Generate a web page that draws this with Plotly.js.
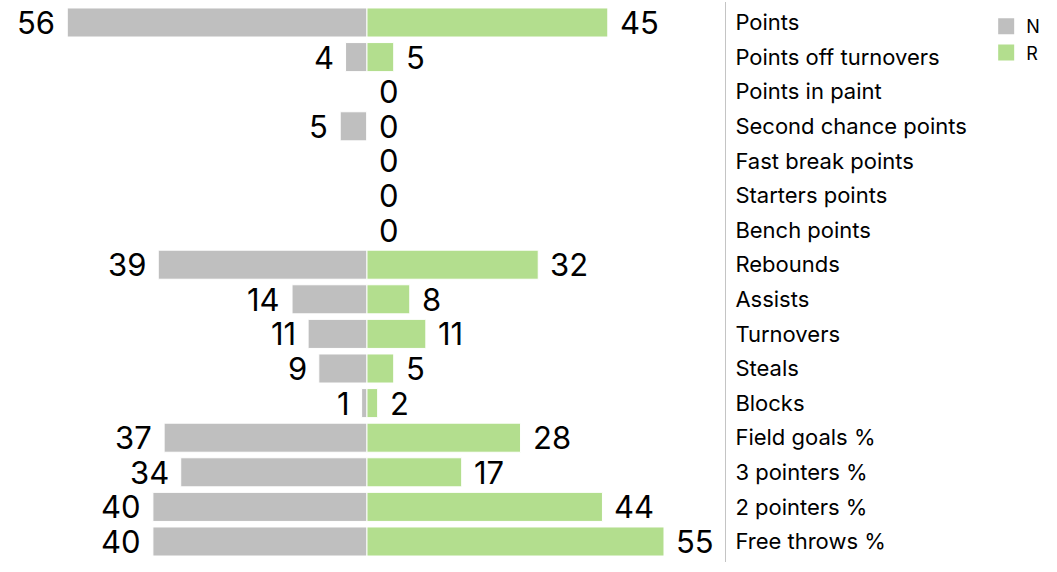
<!DOCTYPE html>
<html>
<head>
<meta charset="utf-8">
<script src="https://cdn.plot.ly/plotly-3.0.1.min.js"></script>
<style>html,body{margin:0;padding:0;background:#fff;}#chart{width:1057px;height:572px;}</style>
</head>
<body>
<div id="chart"></div>
<script>
const categories = ["Points", "Points off turnovers", "Points in paint", "Second chance points",
  "Fast break points", "Starters points", "Bench points", "Rebounds", "Assists", "Turnovers",
  "Steals", "Blocks", "Field goals %", "3 pointers %", "2 pointers %", "Free throws %"];
// bar lengths (percentages are not whole numbers)
const nValues = [56, 4, 0, 5, 0, 0, 0, 39, 14, 11, 9, 1, 37.9, 34.8, 40, 40];
const rValues = [45, 5, 0, 0, 0, 0, 0, 32, 8, 11, 5, 2, 28.7, 17.7, 44, 55.5];
// value labels as printed
const nLabels = ["56", "4", "", "5", "", "", "", "39", "14", "11", "9", "1", "37", "34", "40", "40"];
const rLabels = ["45", "5", "0", "0", "0", "0", "0", "32", "8", "11", "5", "2", "28", "17", "44", "55"];
const seriesNames = ["N", "R"];
const colors = ["#bfbfbf", "#b3de8e"];
const FONT = "Inter, 'Noto Sans', sans-serif";

const traces = [
  {type: "bar", orientation: "h", y: categories, x: nValues.map(v => -v), name: seriesNames[0],
   marker: {color: colors[0], line: {color: "#ffffff", width: 1}}, showlegend: false, hoverinfo: "none"},
  {type: "bar", orientation: "h", y: categories, x: rValues, name: seriesNames[1],
   marker: {color: colors[1], line: {color: "#ffffff", width: 1}}, showlegend: false, hoverinfo: "none"},
  {type: "scatter", mode: "markers", x: [null], y: [null], name: seriesNames[0],
   marker: {symbol: "square", size: 17, color: colors[0]}},
  {type: "scatter", mode: "markers", x: [null], y: [null], name: seriesNames[1],
   marker: {symbol: "square", size: 17, color: colors[1]}}
];

const annotations = [];
categories.forEach((c, i) => {
  if (nLabels[i] !== "") {
    annotations.push({x: -nValues[i], y: c, text: nLabels[i], showarrow: false,
      xanchor: "right", yanchor: "middle", xshift: -10, font: {size: 31, color: "#000", family: FONT}});
  }
  if (rLabels[i] !== "") {
    annotations.push({x: rValues[i], y: c, text: rLabels[i], showarrow: false,
      xanchor: "left", yanchor: "middle", xshift: 10, font: {size: 31, color: "#000", family: FONT}});
  }
});

const layout = {
  width: 1057, height: 572,
  margin: {l: 0, r: 332, t: 2, b: 10, autoexpand: false},
  paper_bgcolor: "#fff", plot_bgcolor: "#fff",
  barmode: "overlay", bargap: 0.16,
  font: {family: FONT, color: "#000"},
  xaxis: {range: [-68.57, 66.9], showgrid: false, zeroline: false, showticklabels: false, ticks: "", showline: false, fixedrange: true},
  yaxis: {type: "category", autorange: "reversed", side: "right", showline: true, linecolor: "#c4c4c4", linewidth: 1,
    ticks: "", showgrid: false, zeroline: false, ticklabelstandoff: 5, tickfont: {size: 22, color: "#000", family: FONT}},
  legend: {xref: "container", yref: "container", x: 0.933, y: 0.986, xanchor: "left", yanchor: "top",
    font: {size: 18, color: "#000", family: FONT}, bgcolor: "rgba(0,0,0,0)", tracegroupgap: 0},
  annotations: annotations,
  showlegend: true
};

Plotly.newPlot("chart", traces, layout, {displayModeBar: false, staticPlot: true});
</script>
</body>
</html>
